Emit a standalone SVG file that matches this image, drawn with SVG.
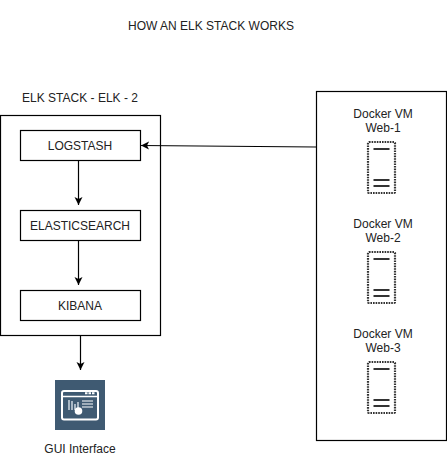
<svg xmlns="http://www.w3.org/2000/svg" width="447" height="466" viewBox="0 0 447 466">
<style>
text{font-family:"Liberation Sans",Arial,sans-serif;font-size:12px;fill:#222;text-anchor:middle}
.b{fill:#fff;stroke:#000;stroke-width:1.2}
.c{fill:none;stroke:#000;stroke-width:1.2}
.vm{fill:none;stroke:#333;stroke-width:2.2;stroke-dasharray:1.6 1}
.bar{stroke:#333;stroke-width:2.2;fill:none}
</style>
<defs>
<marker id="a" markerWidth="10" markerHeight="10" refX="8" refY="4.500" orient="auto" markerUnits="userSpaceOnUse"><path d="M0 0.500L8 4.500L0 8.500L2 4.500Z" fill="#000"/></marker>
<g id="vmicon">
<rect class="vm" x="0" y="0" width="27" height="51" rx="1"/>
<path class="bar" d="M5.500 7H21.500M5.500 38H21.500M5.500 44H21.500"/>
</g>
</defs>
<rect width="447" height="466" fill="#fff"/>
<text id="title" x="211" y="30">HOW AN ELK STACK WORKS</text>
<g id="elk-stack"><rect class="b" x="0.5" y="115.500" width="160" height="220"/><text x="80" y="102">ELK STACK - ELK - 2</text></g>
<g id="docker-group"><rect class="b" x="316.500" y="91.500" width="130" height="349"/></g>
<g id="logstash"><rect class="b" x="20.500" y="130.500" width="120" height="30"/><text x="80" y="150">LOGSTASH</text></g>
<g id="elasticsearch"><rect class="b" x="20.500" y="210.500" width="120" height="30"/><text x="80" y="230">ELASTICSEARCH</text></g>
<g id="kibana"><rect class="b" x="20.500" y="290.500" width="120" height="30"/><text x="80" y="310">KIBANA</text></g>
<g id="web-1"><text x="383" y="118">Docker VM</text><text x="383" y="132">Web-1</text><use href="#vmicon" x="368" y="142"/></g>
<g id="web-2"><text x="383" y="228">Docker VM</text><text x="383" y="242">Web-2</text><use href="#vmicon" x="368" y="252"/></g>
<g id="web-3"><text x="383" y="338">Docker VM</text><text x="383" y="352">Web-3</text><use href="#vmicon" x="368" y="362"/></g>
<g id="gui">
<rect x="55" y="380" width="50" height="50" fill="#3f5a72"/>
<rect x="62" y="391" width="36" height="28.500" rx="2" fill="#3f5a72" stroke="#fff" stroke-width="2"/>
<path d="M62 396.500H98" stroke="#fff" stroke-width="1.5" fill="none"/>
<path d="M85 393.300h2.500m1 0h2.500m1 0h2.500" stroke="#fff" stroke-width="2" fill="none"/>
<path d="M69 400v10M72 401v9M75 404v6M78 402v8" stroke="#c5d0da" stroke-width="1.6" fill="none"/>
<circle cx="78.500" cy="411" r="3.800" fill="#fff"/>
<path d="M82 401H93M82 404H93M82 407H93" stroke="#fff" stroke-width="1.1" fill="none"/>
<text x="80" y="453">GUI Interface</text>
</g>
<g id="connectors">
<path class="c" marker-end="url(#a)" d="M316 147L141 145.500"/>
<path class="c" marker-end="url(#a)" d="M78.500 161V205"/>
<path class="c" marker-end="url(#a)" d="M78.500 241V285"/>
<path class="c" marker-end="url(#a)" d="M80.500 336V370"/>
</g>
</svg>
